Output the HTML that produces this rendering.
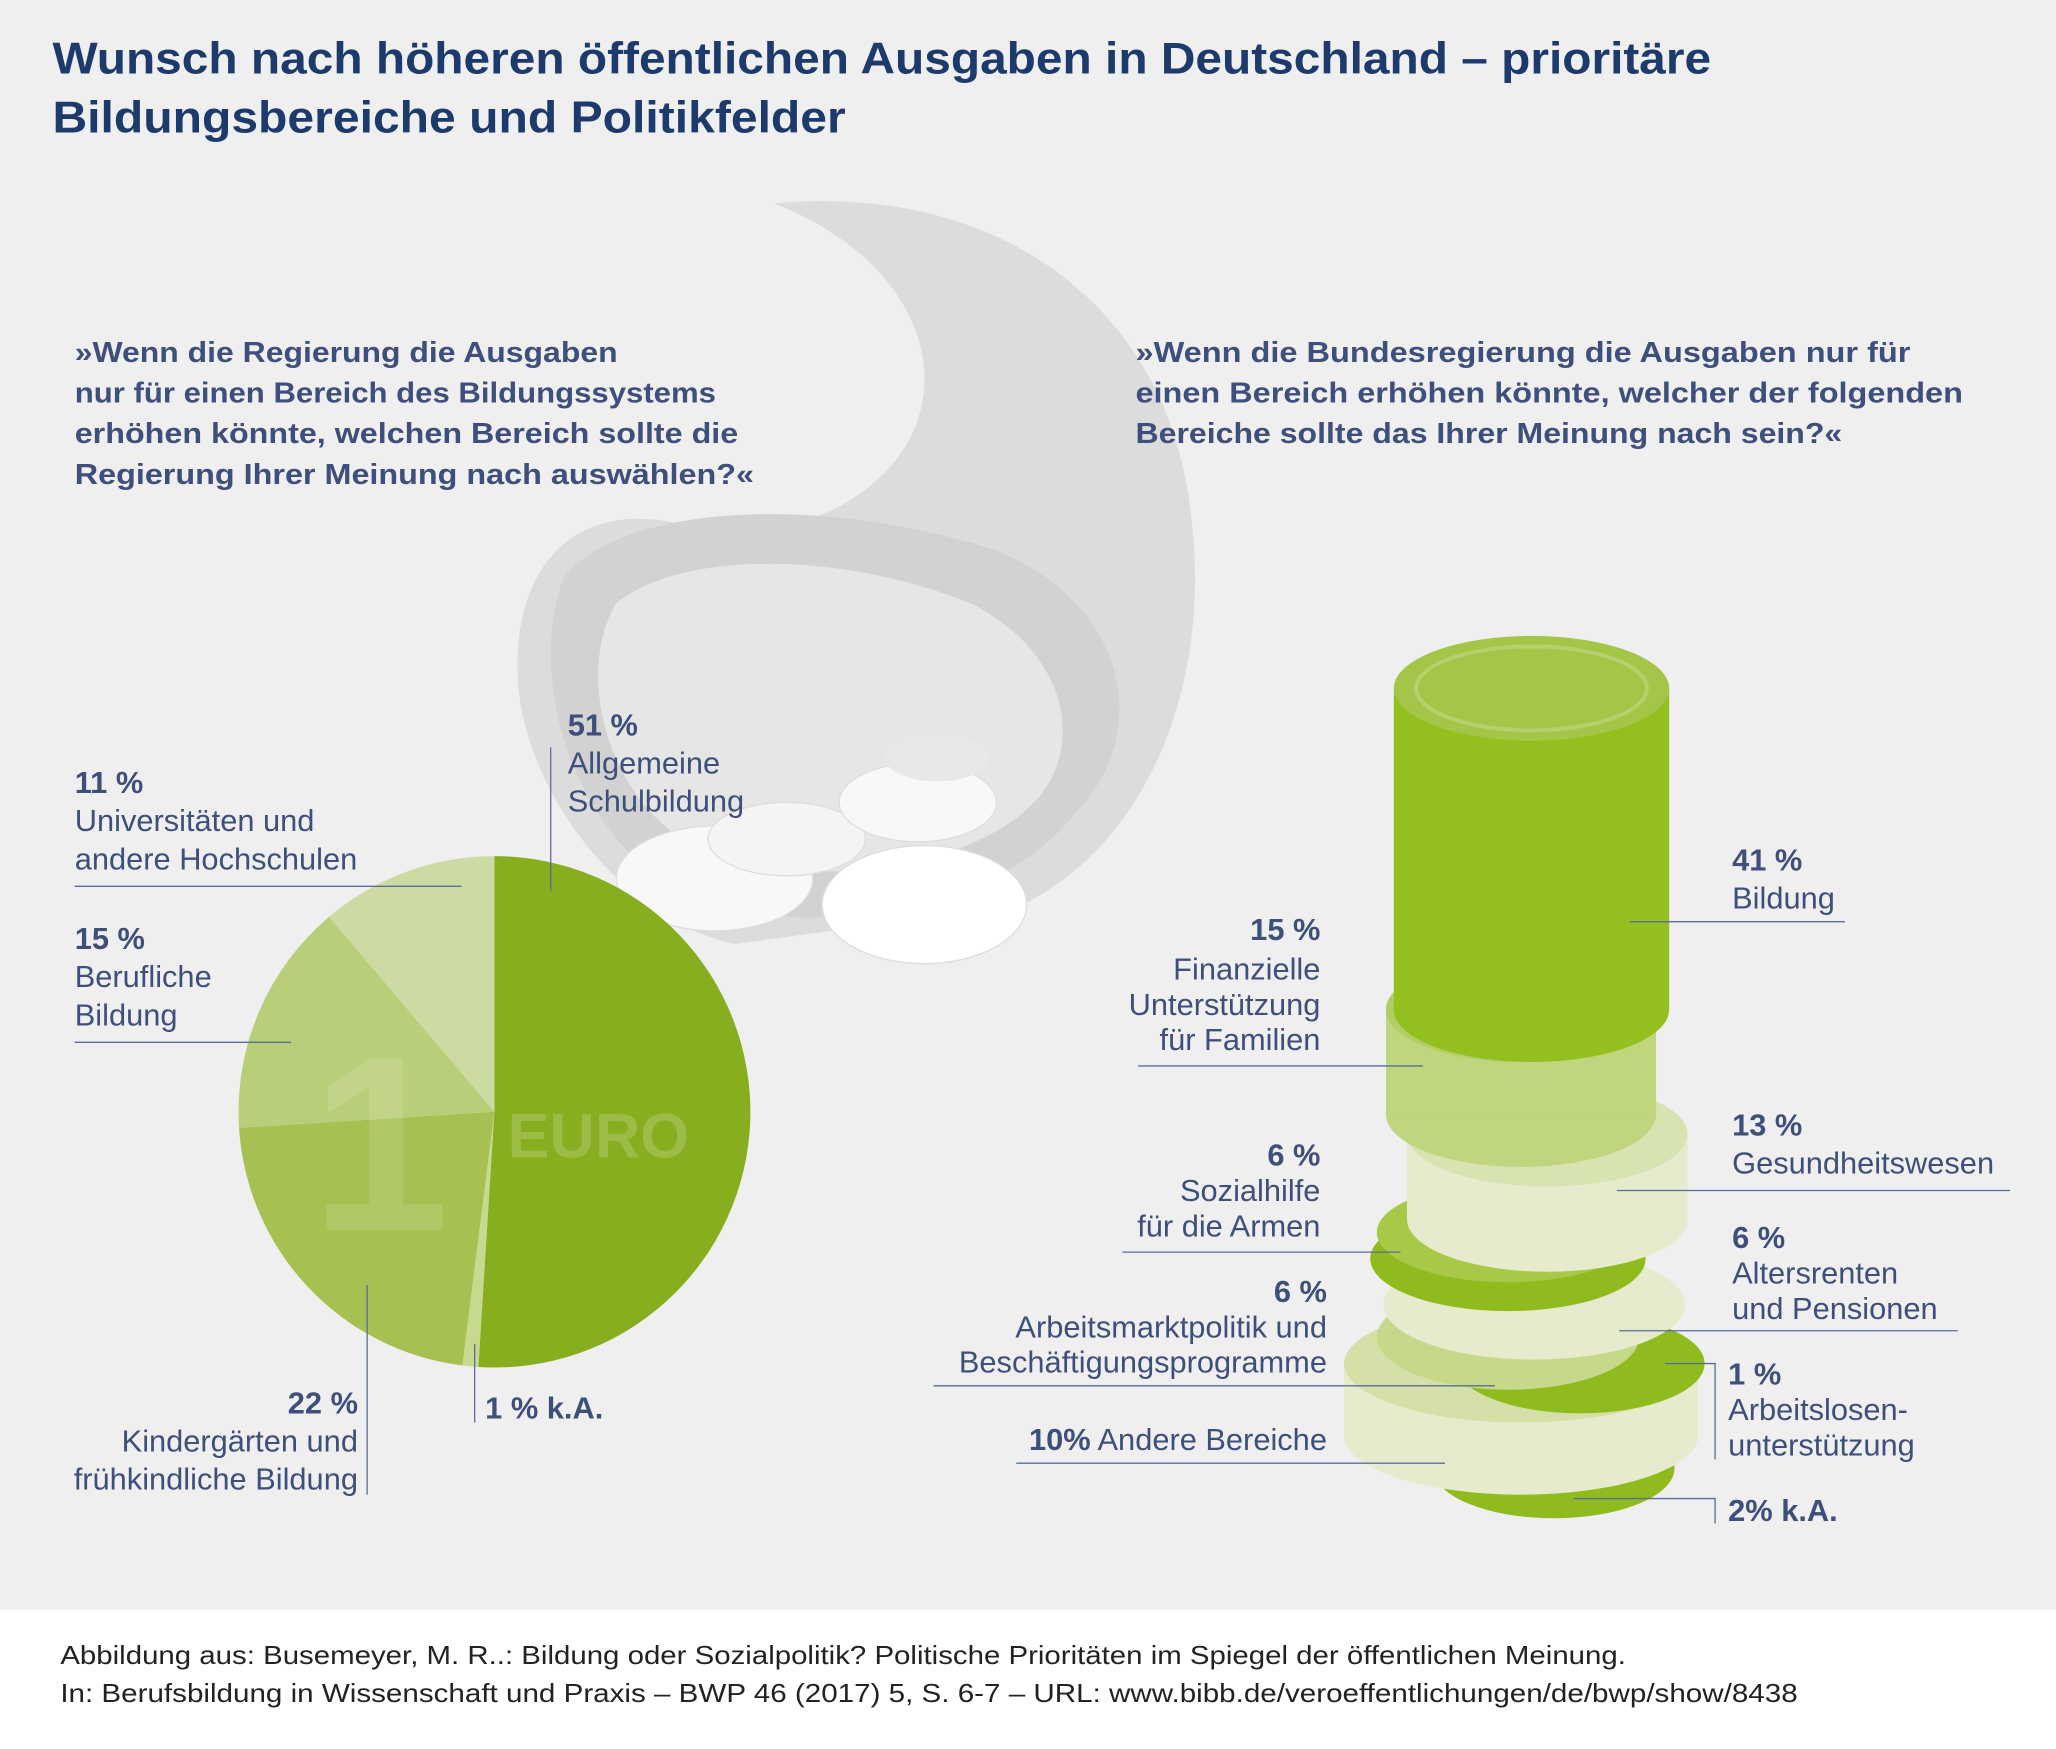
<!DOCTYPE html>
<html><head><meta charset="utf-8"><style>
html,body{margin:0;padding:0;background:#fff}
svg{display:block}
text{font-family:"Liberation Sans",sans-serif}
</style></head><body>
<svg width="2056" height="1749" viewBox="0 0 1568 1334" preserveAspectRatio="none" xmlns="http://www.w3.org/2000/svg">
<rect x="0" y="0" width="1568" height="1228" fill="#efefef"/>
<text x="40" y="56" font-size="34" font-weight="bold" fill="#1d3a6c" textLength="1265" lengthAdjust="spacingAndGlyphs">Wunsch nach höheren öffentlichen Ausgaben in Deutschland – prioritäre</text>
<text x="40" y="101" font-size="34" font-weight="bold" fill="#1d3a6c" textLength="605" lengthAdjust="spacingAndGlyphs">Bildungsbereiche und Politikfelder</text>

<!-- cornucopia background -->
<path d="M590 155 C760 140 880 230 905 370 C930 510 880 640 780 690 L560 720 C470 700 400 600 395 520 C390 430 440 380 520 400 C600 420 680 380 700 320 C720 260 680 190 590 155 Z" fill="#dcdcdc"/>
<path d="M430 440 C480 380 640 380 760 420 C860 460 880 560 820 620 C760 700 600 720 520 680 C440 640 400 520 430 440 Z" fill="#d2d2d2"/>
<path d="M470 460 C520 420 640 420 740 460 C820 500 830 580 780 620 C720 670 590 680 520 640 C460 600 440 510 470 460 Z" fill="#e6e6e6"/>
<ellipse cx="545" cy="670" rx="75" ry="40" fill="#f8f8f8" stroke="#ddd"/>
<ellipse cx="600" cy="640" rx="60" ry="28" fill="#f4f4f4" stroke="#ddd"/>
<ellipse cx="700" cy="612" rx="60" ry="30" fill="#f8f8f8" stroke="#ddd"/>
<ellipse cx="705" cy="690" rx="78" ry="45" fill="#fff" stroke="#ddd"/>
<ellipse cx="715" cy="578" rx="40" ry="18" fill="#e8e8e8"/>

<g font-size="22" font-weight="bold" fill="#3e4f7c" lengthAdjust="spacingAndGlyphs">
<text x="57" y="276" textLength="414" lengthAdjust="spacingAndGlyphs">»Wenn die Regierung die Ausgaben</text>
<text x="57" y="307" textLength="489" lengthAdjust="spacingAndGlyphs">nur für einen Bereich des Bildungssystems</text>
<text x="57" y="338" textLength="506" lengthAdjust="spacingAndGlyphs">erhöhen könnte, welchen Bereich sollte die</text>
<text x="57" y="369" textLength="518" lengthAdjust="spacingAndGlyphs">Regierung Ihrer Meinung nach auswählen?«</text>
<text x="866" y="276" textLength="591" lengthAdjust="spacingAndGlyphs">»Wenn die Bundesregierung die Ausgaben nur für</text>
<text x="866" y="307" textLength="631" lengthAdjust="spacingAndGlyphs">einen Bereich erhöhen könnte, welcher der folgenden</text>
<text x="866" y="338" textLength="539" lengthAdjust="spacingAndGlyphs">Bereiche sollte das Ihrer Meinung nach sein?«</text>
</g>

<!-- pie -->
<g transform="translate(377,848)">
<path d="M0 0 L0 -195 A195 195 0 1 1 -12.2 194.6 Z" fill="#86ae1e"/>
<path d="M0 0 L-12.2 194.6 A195 195 0 0 1 -24.4 193.5 Z" fill="#c7d98e"/>
<path d="M0 0 L-24.4 193.5 A195 195 0 0 1 -194.7 12.2 Z" fill="#a6c152"/>
<path d="M0 0 L-194.7 12.2 A195 195 0 0 1 -126 -148.8 Z" fill="#b9ce78"/>
<path d="M0 0 L-126 -148.8 A195 195 0 0 1 0 -195 Z" fill="#ccdba2"/>
<text x="-140" y="90" font-size="190" font-family="Liberation Serif" font-weight="bold" fill="#ffffff" fill-opacity="0.12">1</text>
<text x="10" y="35" font-size="48" font-family="Liberation Serif" font-weight="bold" fill="#ffffff" fill-opacity="0.18">EURO</text>
</g>
<g stroke="#5a6d98" stroke-width="1" fill="none">
<line x1="420" y1="570" x2="420" y2="680"/>
<line x1="57" y1="676" x2="352" y2="676"/>
<line x1="57" y1="795" x2="222" y2="795"/>
<line x1="280" y1="980" x2="280" y2="1140"/>
<line x1="362" y1="1025" x2="362" y2="1085"/>
</g>
<g font-size="23.5" fill="#3e4f7c">
<text x="433" y="561" font-weight="bold">51 %</text>
<text x="433" y="590">Allgemeine</text><text x="433" y="619">Schulbildung</text>
<text x="57" y="605" font-weight="bold">11 %</text>
<text x="57" y="634">Universitäten und</text><text x="57" y="663">andere Hochschulen</text>
<text x="57" y="724" font-weight="bold">15 %</text>
<text x="57" y="753">Berufliche</text><text x="57" y="782">Bildung</text>
<text x="273" y="1078" font-weight="bold" text-anchor="end">22 %</text>
<text x="273" y="1107" text-anchor="end">Kindergärten und</text><text x="273" y="1136" text-anchor="end">frühkindliche Bildung</text>
<text x="370" y="1082" font-weight="bold">1 % k.A.</text>
</g>

<!-- coin stack -->
<g>
<ellipse cx="1185" cy="1120" rx="92" ry="38" fill="#8fbb1e"/>
<rect x="1093" y="1100" width="184" height="20" fill="#8fbb1e"/>
<ellipse cx="1185" cy="1100" rx="92" ry="38" fill="#a3c93a"/>
<ellipse cx="1160" cy="1095" rx="135" ry="45" fill="#e5ebcc"/>
<rect x="1025" y="1040" width="270" height="55" fill="#e5ebcc"/>
<ellipse cx="1160" cy="1040" rx="135" ry="45" fill="#d4e0a8"/>
<ellipse cx="1205" cy="1040" rx="95" ry="38" fill="#8fbb1e"/>
<ellipse cx="1150" cy="1020" rx="100" ry="40" fill="#c6d98b"/>
<ellipse cx="1170" cy="995" rx="115" ry="42" fill="#e5ebcc"/>
<ellipse cx="1150" cy="960" rx="105" ry="40" fill="#8fbb1e"/>
<ellipse cx="1150" cy="940" rx="100" ry="38" fill="#a7c947"/>
<ellipse cx="1180" cy="930" rx="107" ry="40" fill="#e5ebcc"/>
<rect x="1073" y="870" width="214" height="60" fill="#e5ebcc"/>
<ellipse cx="1180" cy="865" rx="107" ry="40" fill="#d8e3b2"/>
<ellipse cx="1160" cy="850" rx="103" ry="40" fill="#bfd57e"/>
<rect x="1057" y="770" width="206" height="80" fill="#bfd57e"/>
<ellipse cx="1160" cy="770" rx="103" ry="40" fill="#b2cc66"/>
<rect x="1063" y="525" width="210" height="245" fill="#93c01f"/>
<ellipse cx="1168" cy="770" rx="105" ry="40" fill="#93c01f"/>
<ellipse cx="1168" cy="525" rx="105" ry="40" fill="#a3c648"/>
<ellipse cx="1168" cy="525" rx="88" ry="32" fill="none" stroke="#b6d06c" stroke-width="3"/>
</g>
<g stroke="#5a6d98" stroke-width="1" fill="none">
<line x1="1243" y1="703" x2="1407" y2="703"/>
<line x1="868" y1="813" x2="1085" y2="813"/>
<line x1="1233" y1="908" x2="1533" y2="908"/>
<line x1="856" y1="955" x2="1068" y2="955"/>
<line x1="1235" y1="1015" x2="1493" y2="1015"/>
<line x1="712" y1="1057" x2="1140" y2="1057"/>
<polyline points="1270,1040 1308,1040 1308,1113"/>
<line x1="775" y1="1116" x2="1102" y2="1116"/>
<polyline points="1200,1143 1308,1143 1308,1162"/>
</g>
<g font-size="23.5" fill="#3e4f7c">
<text x="1321" y="664" font-weight="bold">41 %</text><text x="1321" y="693">Bildung</text>
<text x="1007" y="717" font-weight="bold" text-anchor="end">15 %</text>
<text x="1007" y="747" text-anchor="end">Finanzielle</text><text x="1007" y="774" text-anchor="end">Unterstützung</text><text x="1007" y="801" text-anchor="end">für Familien</text>
<text x="1321" y="866" font-weight="bold">13 %</text><text x="1321" y="895">Gesundheitswesen</text>
<text x="1007" y="889" font-weight="bold" text-anchor="end">6 %</text>
<text x="1007" y="916" text-anchor="end">Sozialhilfe</text><text x="1007" y="943" text-anchor="end">für die Armen</text>
<text x="1321" y="952" font-weight="bold">6 %</text><text x="1321" y="979">Altersrenten</text><text x="1321" y="1006">und Pensionen</text>
<text x="1012" y="993" font-weight="bold" text-anchor="end">6 %</text>
<text x="1012" y="1020" text-anchor="end">Arbeitsmarktpolitik und</text><text x="1012" y="1047" text-anchor="end">Beschäftigungsprogramme</text>
<text x="1318" y="1056" font-weight="bold">1 %</text><text x="1318" y="1083">Arbeitslosen-</text><text x="1318" y="1110">unterstützung</text>
<text x="1012" y="1106" text-anchor="end"><tspan font-weight="bold">10%</tspan> Andere Bereiche</text>
<text x="1318" y="1160" font-weight="bold">2% k.A.</text>
</g>

<g font-size="20" fill="#222">
<text x="46" y="1269" textLength="1194" lengthAdjust="spacingAndGlyphs">Abbildung aus: Busemeyer, M. R..: Bildung oder Sozialpolitik? Politische Prioritäten im Spiegel der öffentlichen Meinung.</text>
<text x="46" y="1298" textLength="1325" lengthAdjust="spacingAndGlyphs">In: Berufsbildung in Wissenschaft und Praxis – BWP 46 (2017) 5, S. 6-7 – URL: www.bibb.de/veroeffentlichungen/de/bwp/show/8438</text>
</g>
</svg>
</body></html>
